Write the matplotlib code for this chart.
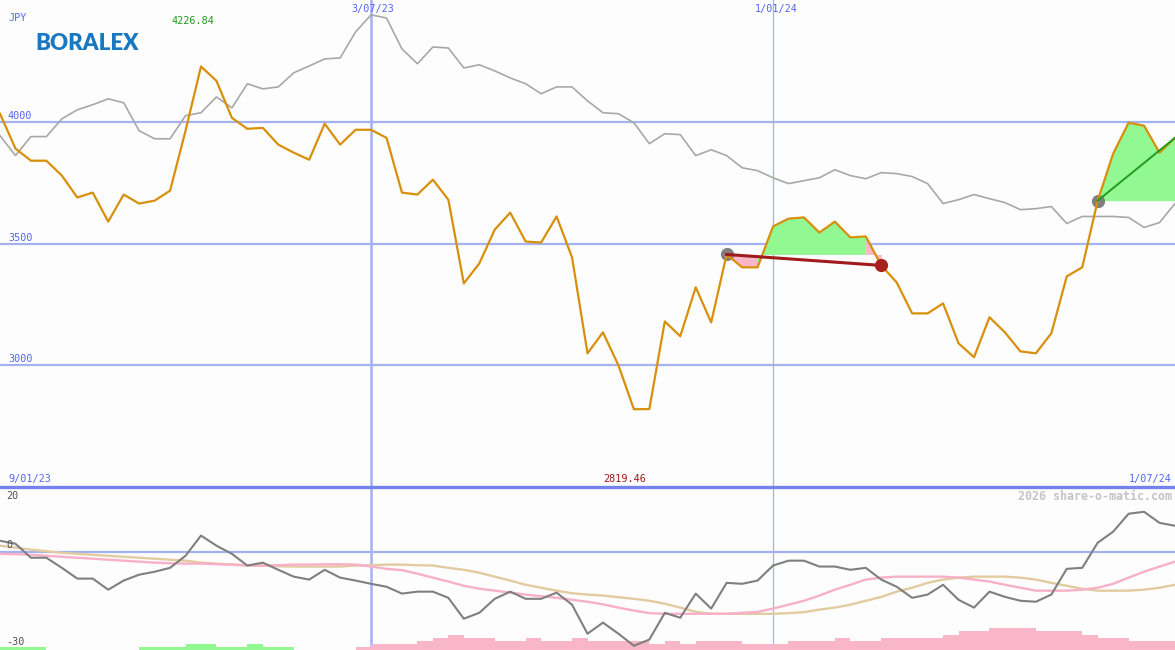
import matplotlib
matplotlib.use("Agg")
import matplotlib.pyplot as plt
import pandas as pd
import numpy as np

# ---------------- data ----------------
start_date = "2023-01-16"
n_weeks = 77

price = [4033, 3890, 3840, 3840, 3779, 3689, 3709, 3590, 3701, 3664,
         3676, 3717, 3963, 4226.84, 4168, 4016, 3971, 3975, 3906, 3873,
         3844, 3992, 3906, 3967, 3967, 3934, 3709, 3701, 3762, 3680,
         3336, 3418, 3557, 3627, 3508, 3504, 3611, 3443, 3049, 3135,
         3000, 2819.46, 2820, 3180, 3119, 3320, 3176, 3455, 3402, 3402,
         3570, 3602, 3607, 3545, 3590, 3525, 3529, 3410, 3340, 3213,
         3213, 3254, 3090, 3033, 3197, 3135, 3057, 3049, 3131, 3365,
         3402, 3676, 3869, 3996, 3984, 3873, 3934]

benchmark = [3943, 3861, 3939, 3939, 4012, 4049, 4070, 4094, 4078, 3963,
             3930, 3930, 4025, 4037, 4102, 4057, 4156, 4135, 4143, 4201,
             4229, 4258, 4262, 4369, 4439, 4426, 4299, 4238, 4307, 4303,
             4221, 4234, 4209, 4180, 4156, 4115, 4143, 4143, 4086, 4037,
             4033, 3996, 3910, 3951, 3947, 3861, 3885, 3861, 3811, 3799,
             3770, 3746, 3758, 3770, 3803, 3779, 3766, 3791, 3787, 3775,
             3746, 3664, 3680, 3701, 3684, 3668, 3639, 3643, 3652, 3582,
             3611, 3611, 3611, 3607, 3566, 3586, 3664]

oscillator = [3.5, 2.6, -1.7, -1.7, -4.8, -8.1, -8.1, -11.5, -8.7, -6.9,
              -6.0, -4.8, -1.1, 5.1, 2.0, -0.5, -4.1, -3.2, -5.4, -7.5,
              -8.4, -5.4, -7.8, -8.7, -9.7, -10.6, -12.7, -12.1, -12.1, -14.0,
              -20.4, -18.6, -14.3, -12.1, -14.3, -14.3, -12.4, -16.1, -25.0, -21.6,
              -25.0, -28.7, -26.8, -18.6, -20.1, -12.7, -17.3, -9.4, -9.7, -8.7,
              -4.1, -2.6, -2.6, -4.4, -4.4, -5.4, -4.8, -8.4, -10.6, -14.0,
              -13.0, -10.0, -14.6, -17.0, -12.1, -13.7, -14.9, -15.2, -13.0, -5.1,
              -4.8, 2.9, 6.3, 11.8, 12.4, 9.0, 8.1]

signal_fast = [-0.5, -0.6, -0.8, -1.1, -1.4, -1.7, -2.0, -2.3, -2.6, -2.9,
               -3.2, -3.4, -3.5, -3.5, -3.7, -3.8, -4.0, -4.1, -4.0, -3.8,
               -3.8, -3.7, -3.7, -3.8, -4.4, -5.1, -5.5, -6.6, -7.8, -9.0,
               -10.3, -11.2, -11.8, -12.4, -13.0, -13.5, -14.0, -14.6, -15.2, -16.0,
               -17.0, -17.9, -18.7, -18.9, -18.9, -18.9, -18.9, -18.9, -18.6, -18.3,
               -17.3, -16.1, -14.9, -13.3, -11.5, -10.0, -8.4, -7.8, -7.5, -7.5,
               -7.5, -7.5, -7.8, -8.4, -9.0, -10.0, -10.9, -11.8, -11.8, -11.8,
               -11.5, -10.9, -9.7, -7.8, -6.0, -4.4, -2.9]

signal_slow = [2.0, 1.4, 0.8, 0.3, -0.2, -0.5, -0.8, -1.1, -1.4, -1.7,
               -2.0, -2.3, -2.6, -3.2, -3.5, -3.8, -4.1, -4.1, -4.3, -4.4,
               -4.4, -4.4, -4.4, -4.1, -4.0, -3.8, -3.8, -4.0, -4.1, -4.8,
               -5.4, -6.3, -7.5, -8.7, -10.0, -10.9, -11.8, -12.6, -13.0, -13.3,
               -13.8, -14.3, -14.9, -15.8, -17.0, -18.3, -18.9, -18.9, -18.9, -18.9,
               -18.9, -18.7, -18.4, -17.6, -17.0, -16.1, -14.9, -13.7, -12.1, -10.9,
               -9.4, -8.4, -7.8, -7.5, -7.5, -7.5, -7.8, -8.4, -9.4, -10.3,
               -11.2, -11.8, -11.8, -11.8, -11.5, -10.9, -10.0]

# weekly histogram (positive = green, negative = pink)
histogram = [0.9, 0.9, 0.9, 0, 0, 0, 0, 0, 0, 0.9,
             0.9, 0.9, 1.8, 1.8, 0.9, 0.9, 1.8, 0.9, 0.9, 0,
             0, 0, 0, -0.9, -1.8, -1.8, -1.8, -2.8, -3.7, -4.6,
             -3.7, -3.7, -2.8, -2.8, -3.7, -2.8, -2.8, -3.7, -2.8, -2.8,
             -2.8, -2.8, -1.8, -2.8, -1.8, -2.8, -2.8, -2.8, -1.8, -1.8,
             -1.8, -2.8, -2.8, -2.8, -3.7, -2.8, -2.8, -3.7, -3.7, -3.7,
             -3.7, -4.6, -5.8, -5.8, -6.7, -6.7, -6.7, -5.8, -5.8, -5.8,
             -4.6, -3.7, -3.7, -2.8, -2.8, -2.8]

price_gridlines = [4000, 3500, 3000]
marker_dates = ["2023-07-03", "2024-01-01"]
marker_labels = ["3/07/23", "1/01/24"]
trend1 = (47, 57)   # week indices of first annotation
trend2 = (71, 76)   # week indices of second annotation
max_label = "4226.84"
min_label = "2819.46"

# ---------------- styling ----------------
W, H = 1175, 650
BG = "#fcfdfc"
GRID = "#a4b2f2"
SEP = "#7483ec"
LBL = "#5566ee"
ORANGE = "#d8900c"
GREY = "#a8a8a8"
GREEN_FILL = "#92f892"
PINK_FILL = "#f8b6c8"
MONO = "DejaVu Sans Mono"

dates = pd.date_range(start_date, periods=n_weeks, freq="7D")
price = np.array(price, dtype=float)

fig = plt.figure(figsize=(W / 100, H / 100), dpi=100, facecolor=BG)
main_h = 487 / H
ax = fig.add_axes([0, 1 - main_h, 1, main_h], facecolor=BG)
ax2 = fig.add_axes([0, 0, 1, 1 - main_h], facecolor=BG)

for a in (ax, ax2):
    a.set_xlim(dates[0], dates[-1])
    for s in a.spines.values():
        s.set_visible(False)
    a.set_xticks([])
    a.set_yticks([])

ax.set_ylim(2500, 4500)
ax2.set_ylim(-30, 20)

# grid lines
for g in price_gridlines:
    ax.axhline(g, color=GRID, lw=1.6, zorder=1)
for d, lw in zip(marker_dates, [1.8, 0.9]):
    ax.axvline(pd.Timestamp(d), color=GRID, lw=lw, zorder=1)
    ax2.axvline(pd.Timestamp(d), color=GRID, lw=lw, zorder=1)
ax2.axhline(0, color=GRID, lw=1.6, zorder=1)
ax2.axhline(20, color=SEP, lw=2.4, zorder=6, clip_on=False)

# benchmark line
ax.plot(dates, benchmark, color=GREY, lw=1.2, zorder=2)

# annotation fills: segments coloured by whether they end above the start level
def seg_fill(i0, i1):
    level = price[i0]
    cols = [GREEN_FILL if price[j + 1] >= level else PINK_FILL
            for j in range(i0, i1)]
    j = i0
    while j < i1:
        k = j
        while k + 1 < i1 and cols[k + 1 - i0] == cols[j - i0]:
            k += 1
        ax.fill_between(dates[j:k + 2], price[j:k + 2], level,
                        color=cols[j - i0], lw=0, zorder=2.5)
        j = k + 1

seg_fill(*trend1)
seg_fill(*trend2)

# price line
ax.plot(dates, price, color=ORANGE, lw=1.6, zorder=4)

# trend lines and dots
a0, a1 = trend1
ax.plot([dates[a0]], [price[a0]], "o", color="#808080", ms=8.5, zorder=3.5)
ax.plot([dates[a0], dates[a1]], [price[a0], price[a1]], color="#a01c1c",
        lw=2.2, zorder=5)
ax.plot([dates[a1]], [price[a1]], "o", color="#a82020", ms=8.5, zorder=5.5)
b0, b1 = trend2
ax.plot([dates[b0]], [price[b0]], "o", color="#808080", ms=8.5, zorder=3.5)
ax.plot([dates[b0], dates[b1]], [price[b0], price[b1]], color="#1f9c1f",
        lw=1.4, zorder=5)

# lower panel
hist = np.array(histogram)
ax2.bar(dates[:-1], np.abs(hist), width=7, align="edge", bottom=-30,
        color=[GREEN_FILL if v > 0 else PINK_FILL for v in hist], lw=0,
        zorder=2)
ax2.plot(dates, signal_slow, color="#e2cba0", lw=1.7, zorder=3)
ax2.plot(dates, signal_fast, color="#f8b0c8", lw=1.7, zorder=3)
ax2.plot(dates, oscillator, color="#7f7f7f", lw=1.5, zorder=4)

# ---------------- texts ----------------
def ftxt(x, y, s, **kw):
    kw.setdefault("family", MONO)
    kw.setdefault("fontsize", 7.3)
    kw.setdefault("va", "center")
    fig.text(x / W, 1 - y / H, s, **kw)

ftxt(8, 18, "JPY", color=LBL)
ftxt(193, 21, max_label, color="#1e9a1e", ha="center")
for g, yy in zip(price_gridlines, [116, 238, 359]):
    ftxt(8, yy, str(g), color=LBL)
ftxt(373, 9, marker_labels[0], color=LBL, ha="center")
ftxt(776, 9, marker_labels[1], color=LBL, ha="center")
ftxt(8, 479, "9/01/23", color=LBL)
ftxt(625, 479, min_label, color="#a01818", ha="center")
ftxt(1172, 479, "1/07/24", color=LBL, ha="right")
ftxt(1172, 496, "2026 share-o-matic.com", color="#c4c4c4", ha="right",
     fontsize=8.4, fontweight="bold")
ftxt(6, 496, "20", color="#505050")
ftxt(6, 545, "0", color="#505050")
ftxt(6, 642, "-30", color="#505050")

# logo
fig.text(35 / W, 1 - 44 / H, "BORALEX", family="Lato", fontweight="heavy",
         fontsize=16, color="#1a78c2", va="center", ha="left")

fig.savefig("out.png", dpi=100, facecolor=BG)
